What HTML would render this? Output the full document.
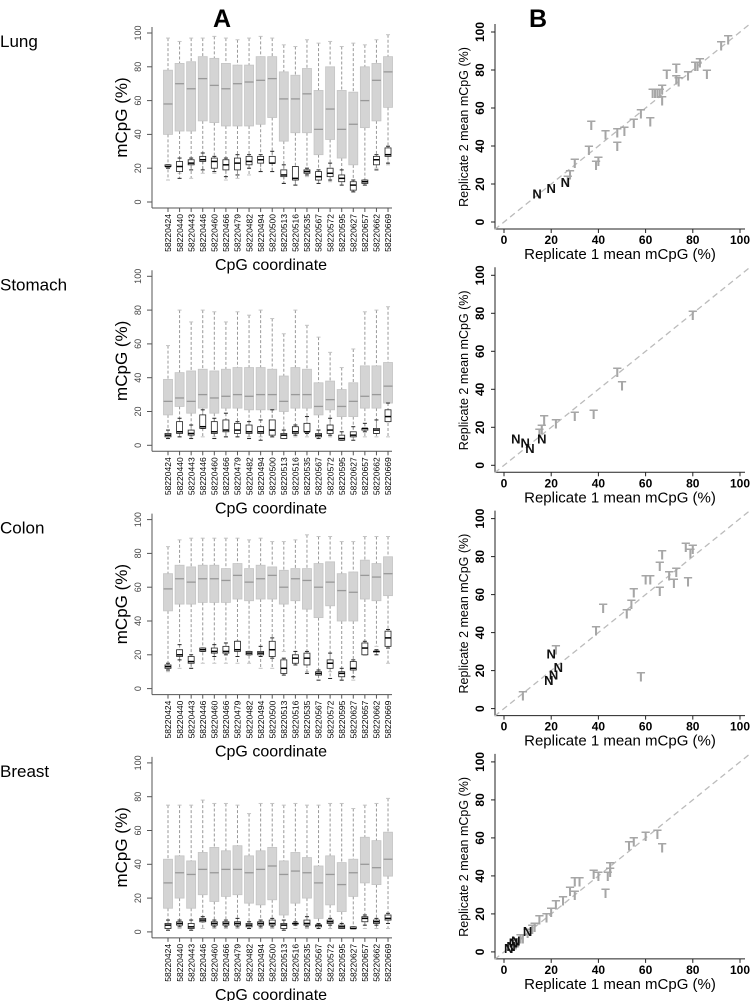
<!DOCTYPE html>
<html><head><meta charset="utf-8"><style>
body{margin:0;background:#fff;width:750px;height:1001px;overflow:hidden}
svg{display:block}
text{font-family:"Liberation Sans",sans-serif}
</style></head><body>
<svg id="fig" width="750" height="1001" xmlns="http://www.w3.org/2000/svg">
<text x="213" y="27" font-size="25" font-weight="bold">A</text>
<text x="529" y="27" font-size="25" font-weight="bold">B</text>
</svg>
<script>
const tissues=["Lung","Stomach","Colon","Breast"];
const coords=["58220424","58220440","58220443","58220446","58220460","58220466","58220479","58220482","58220494","58220500","58220513","58220516","58220535","58220567","58220572","58220595","58220627","58220657","58220662","58220669"];
// [lo,q1,med,q3,hi]
const tumorLung=[[13,40,58,78,97],[17,42,70,82,95],[14,42,67,83,97],[17,48,73,86,97],[17,47,69,85,98],[13,45,67,82,97],[14,45,70,81,96],[16,45,71,81,97],[18,46,72,86,98],[18,50,73,86,97],[11,36,61,77,93],[10,41,61,75,92],[15,41,64,79,96],[11,28,43,66,94],[12,37,55,80,95],[10,26,43,66,92],[6,22,46,65,94],[12,44,60,80,93],[20,48,72,82,96],[22,56,77,86,99]];
const normalLung=[[20,21,21,22,22],[14,18,21,24,26],[19,22,23,25,26],[19,24,25,27,29],[18,20,24,26,27],[15,19,22,25,26],[16,19,23,26,28],[20,22,24,27,28],[18,23,25,27,28],[18,23,23,27,30],[11,15,16,19,22],[10,13,14,21,21],[16,17,18,19,20],[11,13,15,18,19],[13,15,17,20,23],[10,12,14,16,19],[6,7,10,12,13],[10,11,12,13,13],[19,22,25,27,28],[23,27,28,32,33]];
const tumorStomach=[[5,18,26,39,59],[5,23,28,43,80],[5,19,26,44,73],[5,22,30,45,80],[5,19,28,44,79],[5,22,29,45,73],[5,22,30,46,79],[5,21,29,46,77],[5,21,30,46,80],[5,21,30,45,75],[5,20,26,41,66],[5,22,30,46,80],[5,22,30,45,71],[5,18,23,37,64],[5,21,27,38,55],[5,17,23,33,46],[5,17,26,37,57],[5,22,29,47,79],[5,22,30,47,80],[5,25,35,49,82]];
const normalStomach=[[4,5,6,7,9],[5,7,8,14,16],[4,6,7,9,12],[10,10,11,18,21],[4,7,8,14,16],[5,8,9,15,19],[5,7,9,13,14],[4,7,8,12,14],[3,7,8,11,15],[5,6,9,15,21],[4,4,6,7,9],[6,7,8,11,12],[7,8,8,13,17],[4,5,6,7,9],[6,7,9,12,16],[3,3,4,6,8],[3,5,6,8,11],[8,9,10,10,13],[7,7,9,10,15],[14,14,17,21,25]];
const tumorColon=[[10,46,59,68,84],[12,50,65,73,88],[12,50,63,72,89],[15,51,65,73,89],[15,51,65,73,89],[15,51,64,71,89],[15,53,67,74,89],[15,52,63,71,88],[12,53,65,73,89],[12,53,67,72,87],[22,50,60,70,87],[15,52,65,71,88],[10,47,64,71,91],[8,42,60,74,90],[10,49,63,75,90],[5,40,58,68,87],[5,40,57,69,87],[25,53,67,76,90],[25,52,66,74,90],[15,55,68,78,90]];
const normalColon=[[11,12,13,14,15],[17,19,20,23,26],[12,15,16,19,20],[22,22,23,24,24],[19,21,22,24,26],[20,21,22,25,27],[19,22,23,28,28],[20,20,21,22,22],[19,20,21,22,25],[18,19,23,28,30],[8,9,12,17,18],[14,15,18,20,22],[9,14,18,21,22],[5,8,9,10,11],[6,12,15,17,21],[5,7,9,10,12],[7,11,12,16,17],[20,20,24,27,28],[20,22,22,22,23],[24,25,30,34,35]];
const tumorBreast=[[2,14,29,43,75],[2,20,35,45,75],[2,14,34,42,75],[2,22,37,47,78],[2,18,35,50,76],[2,21,37,48,76],[2,22,37,51,75],[2,17,35,45,70],[2,16,37,48,76],[2,19,39,50,76],[2,10,34,42,75],[2,17,36,47,76],[2,20,35,44,75],[2,8,29,39,75],[2,16,34,45,76],[2,12,28,41,76],[2,21,35,43,73],[2,29,40,56,75],[2,28,38,54,76],[2,33,43,59,79]];
const normalBreast=[[1,2,4,5,7],[3,4,5,6,7],[1,2,3,5,7],[6,6,7,8,9],[3,4,5,6,7],[3,4,5,6,7],[3,4,5,6,8],[2,3,4,5,6],[3,4,5,6,7],[3,4,5,7,8],[1,2,4,5,7],[4,5,5,5,6],[3,4,5,7,9],[2,3,4,4,5],[4,5,6,7,8],[2,2,3,4,5],[2,2,2,3,3],[4,6,8,9,10],[4,5,6,7,8],[5,7,8,10,11]];
// scatter [rep1, rep2]
const tLung=[[95,96],[92,93],[83,84],[82,82],[81,82],[86,78],[78,77],[73,81],[73,75],[74,74],[69,78],[67,70],[66,68],[65,68],[64,68],[63,68],[67,64],[62,53],[58,57],[55,52],[51,48],[48,47],[48,40],[43,46],[37,51],[36,38],[40,32],[39,30],[30,31],[28,25],[27,22]];
const nLung=[[14,15],[20,18],[26,21]];
const tStomach=[[80,79],[48,49],[50,42],[38,27],[30,26],[22,22],[17,24],[16,19],[15,17]];
const nStomach=[[5,14],[9,12],[11,9],[16,14]];
const tColon=[[77,85],[79,82],[80,84],[67,81],[66,75],[60,68],[62,68],[70,70],[73,72],[78,67],[72,66],[66,62],[55,61],[54,55],[52,50],[42,53],[39,41],[58,17],[8,7],[22,31]];
const nColon=[[20,29],[23,22],[21,18],[19,15]];
const tBreast=[[67,55],[65,62],[60,61],[55,58],[53,56],[45,45],[45,42],[44,40],[43,31],[40,40],[38,41],[32,37],[30,37],[30,30],[28,32],[25,27],[22,25],[20,21],[18,18],[15,17],[13,13],[12,12],[10,10],[8,7],[7,7],[6,5],[5,4]];
const nBreast=[[10,11],[4,5],[3,3],[5,6],[2,2]];

const tumorAll=[tumorLung,tumorStomach,tumorColon,tumorBreast];
const normalAll=[normalLung,normalStomach,normalColon,normalBreast];
const tAll=[tLung,tStomach,tColon,tBreast];
const nAll=[nLung,nStomach,nColon,nBreast];

const svg=document.getElementById('fig');
const NS="http://www.w3.org/2000/svg";
function mk(tag,attrs,parent){const e=document.createElementNS(NS,tag);for(const k in attrs)e.setAttribute(k,attrs[k]);(parent||svg).appendChild(e);return e;}
function txt(s,attrs,parent){const e=mk('text',attrs,parent);e.textContent=s;return e;}

tissues.forEach((tis,p)=>{
  const off=p*243.3;
  const g=mk('g',{});
  
  
  const tl=txt(tis,{x:0,y:47+off,'font-size':17,'font-family':'Liberation Serif, serif'},g);
  
  
  const y=v=>202+off-v*1.69;
  const x=i=>168+i*11.58;
  const bp=mk('g',{},g);
  
  
  mk('line',{x1:152,y1:y(100)-6,x2:152,y2:y(0)+6,stroke:'#555','stroke-width':1},bp);
  mk('line',{x1:152,y1:y(0)+6,x2:392,y2:y(0)+6,stroke:'#555','stroke-width':1},bp);
  [0,20,40,60,80,100].forEach(v=>{
    mk('line',{x1:147,y1:y(v),x2:152,y2:y(v),stroke:'#555'},bp);
    const t=txt(String(v),{x:141,y:y(v),'font-size':9,fill:'#444','text-anchor':'middle',transform:`rotate(-90 141 ${y(v)})`},bp);
    
    
  });
  const yl=txt('mCpG (%)',{x:127,y:y(50),'font-size':17,'text-anchor':'middle',transform:`rotate(-90 127 ${y(50)})`},bp);
  
  
  coords.forEach((c,i)=>{
    mk('line',{x1:x(i),y1:y(0)+6,x2:x(i),y2:y(0)+10,stroke:'#555'},bp);
    const ty=y(0)+12;
    const t=txt(c,{x:x(i)+3.2,y:ty,'font-size':8.5,'text-anchor':'end',transform:`rotate(-90 ${x(i)+3.2} ${ty})`},bp);
    
    
  });
  const xt=txt('CpG coordinate',{x:271,y:off+270,'font-size':16,'text-anchor':'middle'},bp);
  
  
  const drawBox=(d,i,w,fill,stroke,med,mw,name)=>{
    const b=mk('g',{},bp);
    
    
    mk('line',{x1:x(i),y1:y(d[4]),x2:x(i),y2:y(d[3]),stroke:'#999','stroke-dasharray':'3,2'},b);
    mk('line',{x1:x(i),y1:y(d[1]),x2:x(i),y2:y(d[0]),stroke:'#999','stroke-dasharray':'3,2'},b);
    mk('line',{x1:x(i)-2,y1:y(d[4]),x2:x(i)+2,y2:y(d[4]),stroke:stroke},b);
    mk('line',{x1:x(i)-2,y1:y(d[0]),x2:x(i)+2,y2:y(d[0]),stroke:stroke},b);
    mk('rect',{x:x(i)-w/2,y:y(d[3]),width:w,height:Math.max(0.5,y(d[1])-y(d[3])),fill:fill,stroke:stroke,'stroke-width':0.8},b);
    mk('line',{x1:x(i)-w/2,y1:y(d[2]),x2:x(i)+w/2,y2:y(d[2]),stroke:med,'stroke-width':mw},b);
  };
  tumorAll[p].forEach((d,i)=>drawBox(d,i,9,'#d4d4d4','#c4c4c4','#999',1.3,'tumor-box'));
  normalAll[p].forEach((d,i)=>drawBox(d,i,6,'#fff','#222','#000',1.5,'normal-box'));
  const sx=v=>504+v*2.36;
  const sy=v=>222+off-v*1.9;
  const sc=mk('g',{},g);
  
  
  mk('line',{x1:495,y1:sy(100)-8,x2:495,y2:sy(0)+7,stroke:'#222'},sc);
  mk('line',{x1:495,y1:sy(0)+7,x2:745,y2:sy(0)+7,stroke:'#222'},sc);
  mk('line',{x1:sx(-4),y1:sy(-4),x2:sx(104),y2:sy(104),stroke:'#bbb','stroke-width':1.3,'stroke-dasharray':'6,4'},sc);
  [0,20,40,60,80,100].forEach(v=>{
    mk('line',{x1:491,y1:sy(v),x2:495,y2:sy(v),stroke:'#222'},sc);
    mk('line',{x1:sx(v),y1:sy(0)+7,x2:sx(v),y2:sy(0)+11,stroke:'#222'},sc);
    const a=txt(String(v),{x:484,y:sy(v),'font-size':12,'font-weight':'bold','text-anchor':'middle',transform:`rotate(-90 484 ${sy(v)})`},sc);
    
    
    const b=txt(String(v),{x:sx(v),y:sy(0)+22,'font-size':12,'font-weight':'bold','text-anchor':'middle'},sc);
    
    
  });
  const ya=txt('Replicate 2  mean mCpG (%)',{x:468,y:sy(50),'font-size':12.5,'text-anchor':'middle',transform:`rotate(-90 468 ${sy(50)})`},sc);
  
  
  const xa=txt('Replicate 1 mean mCpG (%)',{x:620,y:sy(0)+37,'font-size':15,'text-anchor':'middle'},sc);
  
  
  tAll[p].forEach(d=>{
    const t=txt('T',{x:sx(d[0]),y:sy(d[1])+5,'font-size':14,'font-weight':'bold',fill:'#a6a6a6','text-anchor':'middle'},sc);
    
    
  });
  nAll[p].forEach(d=>{
    const t=txt('N',{x:sx(d[0]),y:sy(d[1])+5,'font-size':13,'font-weight':'bold',fill:'#111','text-anchor':'middle'},sc);
    
    
  });
});
</script>
</body></html>
